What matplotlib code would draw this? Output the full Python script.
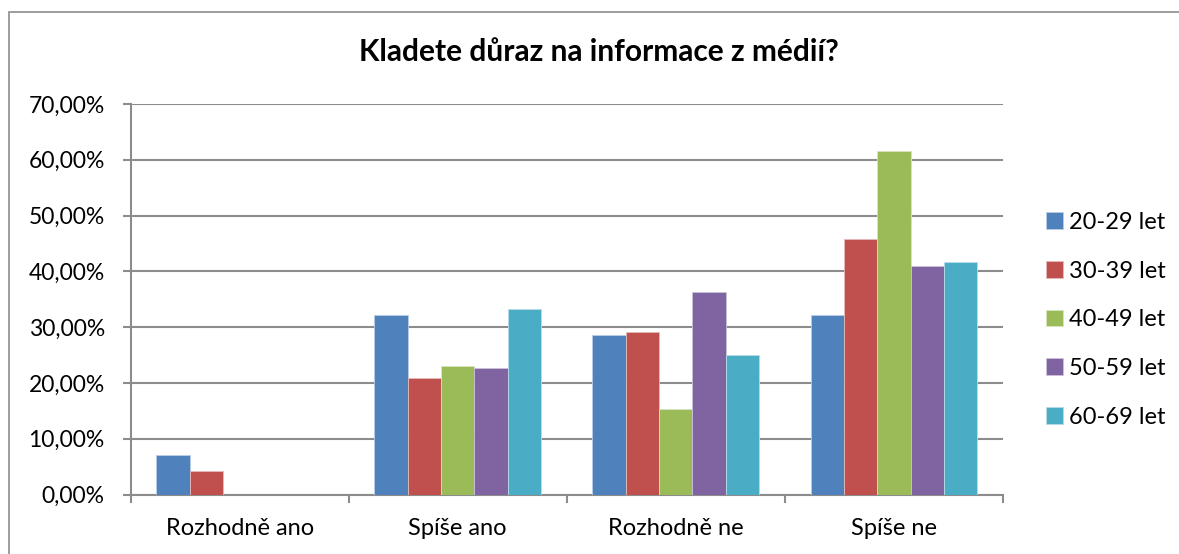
import matplotlib
matplotlib.use("Agg")
import matplotlib.pyplot as plt
import numpy as np
from matplotlib.patches import Rectangle
from matplotlib.ticker import FuncFormatter

categories = ["Rozhodně ano", "Spíše ano", "Rozhodně ne", "Spíše ne"]
series_names = ["20-29 let", "30-39 let", "40-49 let", "50-59 let", "60-69 let"]
v_20_29 = [7.14, 32.14, 28.57, 32.14]
v_30_39 = [4.17, 20.83, 29.17, 45.83]
v_40_49 = [0.0, 23.08, 15.38, 61.54]
v_50_59 = [0.0, 22.73, 36.36, 40.91]
v_60_69 = [0.0, 33.33, 25.00, 41.67]
series_values = [v_20_29, v_30_39, v_40_49, v_50_59, v_60_69]
colors = ["#4F81BD", "#C0504D", "#9BBB59", "#8064A2", "#4BACC6"]
edge_colors = ["#B9CDE5", "#E6B9B8", "#D7E4BD", "#CCC1DA", "#B7DDE8"]

plt.rcParams['font.family'] = ['Lato', 'DejaVu Sans']

W, H = 1179, 554
fig = plt.figure(figsize=(W / 100, H / 100), dpi=100)

# outer chart border
fig.patches.append(Rectangle((9 / W, -0.1), 1.2, (H - 12) / H + 0.1, transform=fig.transFigure,
                             fill=False, edgecolor="#8C8C8C", linewidth=1.2))

left, right, top, bottom = 130.5, 1003, 104, 494.5
ax = fig.add_axes([left / W, 1 - bottom / H, (right - left) / W, (bottom - top) / H])

n = len(series_names)
x = np.arange(len(categories))
bw = 0.153
for i, (name, vals) in enumerate(zip(series_names, series_values)):
    pos = x + (i - (n - 1) / 2) * bw
    ax.bar(pos, vals, width=bw, color=colors[i], edgecolor=edge_colors[i], linewidth=0.6,
           label=name, zorder=3)

ax.set_xlim(-0.5, len(categories) - 0.5)
ax.set_ylim(0, 70)
ax.set_yticks(np.arange(0, 71, 10))
ax.yaxis.set_major_formatter(FuncFormatter(lambda v, p: f"{v:.2f}".replace(".", ",") + "%"))
ax.set_xticks(x)
ax.set_xticklabels(categories)
ax.set_xticks(np.arange(-0.5, len(categories), 1), minor=True)
ax.tick_params(axis='x', which='major', length=0, pad=17, labelsize=17)
ax.tick_params(axis='x', which='minor', length=6, color="#8C8C8C", width=1.5, direction='out')
ax.tick_params(axis='y', length=6, color="#8C8C8C", width=1.5, labelsize=16.5, pad=12.5)
ax.grid(axis='y', color="#8C8C8C", linewidth=1.5, zorder=0)
for s in ["top", "right"]:
    ax.spines[s].set_visible(False)
for s in ["left", "bottom"]:
    ax.spines[s].set_color("#8C8C8C")
    ax.spines[s].set_linewidth(1.5)

fig.text(598.5 / W, 1 - 52 / H, "Kladete důraz na informace z médií?", fontsize=21.5,
         fontweight='bold', ha='center', va='center')

leg = fig.legend(loc='upper left', bbox_to_anchor=(1046 / W, 1 - 212 / H), frameon=False,
                 fontsize=17, handlelength=0.72, handleheight=0.72, handletextpad=0.25,
                 labelspacing=1.17, borderaxespad=0, borderpad=0)

fig.savefig("out.png", dpi=100)
